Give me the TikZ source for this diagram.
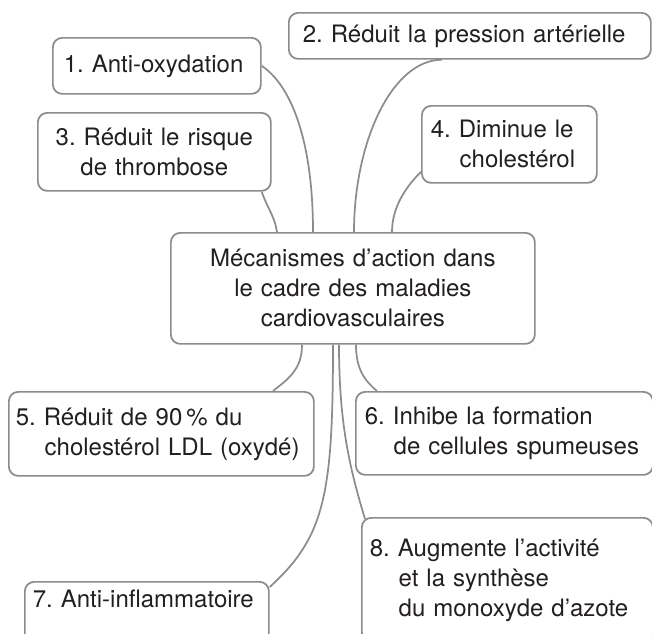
\documentclass[tikz,border=0pt]{standalone}
\usepackage{fontspec}
\setmainfont{TeX Gyre Heros}
\usetikzlibrary{calc}
\definecolor{trait}{RGB}{140,140,140}
\definecolor{encre}{RGB}{35,31,32}
\newcommand{\retrait}{\hspace*{1.2em}}
\frenchspacing

\begin{document}
\begin{tikzpicture}[x=0.75pt,y=0.75pt,yscale=-1,xscale=1,
  bulle/.style={draw=trait, line width=1.3pt, rounded corners=7pt, fill=white,
    text=encre, font=\fontsize{18}{22.5}\selectfont, align=left,
    anchor=north west, inner ysep=0pt},
  lien/.style={draw=trait, line width=1.3pt}]
\useasboundingbox (0,0) rectangle (652,633);
\clip (0,0) rectangle (652,633);

% Central Node
\node[bulle, align=center, inner xsep=6pt, text width=261pt, minimum height=83.25pt] (c) at (170,232) {Mécanismes d’action dans\\le cadre des maladies\\cardiovasculaires};

% Text Node
\node[bulle, inner xsep=8.25pt, text width=139.5pt, minimum height=42pt] (b1) at (52,37) {1. Anti-oxydation};
% Text Node
\node[bulle, inner xsep=10.5pt, text width=250.5pt, minimum height=34.5pt] (b2) at (288,12) {2. Réduit la pression artérielle};
% Text Node
\node[bulle, align=center, inner xsep=9.75pt, text width=155.25pt, minimum height=58.5pt] (b3) at (37,112) {3. Réduit le risque\\de thrombose};
% Text Node
\node[bulle, inner xsep=6.75pt, text width=117.75pt, minimum height=57.75pt] (b4) at (421,105) {4. Diminue le\\\retrait cholestérol};
% Text Node
\node[bulle, inner xsep=5.25pt, text width=218.25pt, minimum height=63pt] (b5) at (8,391) {5. Réduit de 90\,\% du\\\retrait cholestérol LDL (oxydé)};
% Text Node
\node[bulle, inner xsep=6.75pt, text width=209.25pt, minimum height=62.25pt] (b6) at (355,391) {6. Inhibe la formation\\\retrait de cellules spumeuses};
% Text Node
\node[bulle, inner xsep=6pt, text width=171pt, text height=19.5pt, text depth=27pt] (b7) at (24,581) {7. Anti-inflammatoire};
% Text Node
\node[bulle, inner xsep=6pt, text width=206.25pt, minimum height=93pt] (b8) at (361,517) {8. Augmente l’activité\\\retrait et la synthèse\\\retrait du monoxyde d’azote};

% Connectors
\draw[lien] (b1.east) .. controls +(30,20) and +(0,-90) .. ($(c.north west)+(143,0)$);
\draw[lien] ($(b2.south west)+(154,0)$) .. controls +(-50,0) and +(0,-90) .. ($(c.north west)+(184,0)$);
\draw[lien] ($(b3.south east)+(-10,0)$) .. controls +(5,15) and +(-2,-15) .. ($(c.north west)+(107,0)$);
\draw[lien] ($(b4.south west)+(0,-12)$) .. controls +(-15,15) and +(0,-25) .. ($(c.north west)+(222,0)$);
\draw[lien] ($(c.south west)+(132,0)$) .. controls +(0,25) and +(15,-12) .. ($(b5.north west)+(265,0)$);
\draw[lien] ($(c.south west)+(186,0)$) .. controls +(0,25) and +(-12,-10) .. ($(b6.north west)+(22,0)$);
\draw[lien] ($(c.south west)+(163,0)$) .. controls +(0,150) and +(55,-50) .. ($(b7.north east)+(0,6)$);
\draw[lien] ($(c.south west)+(169,0)$) .. controls +(0,80) and +(-15,-50) .. ($(b8.north west)+(4,2)$);

\end{tikzpicture}
\end{document}
